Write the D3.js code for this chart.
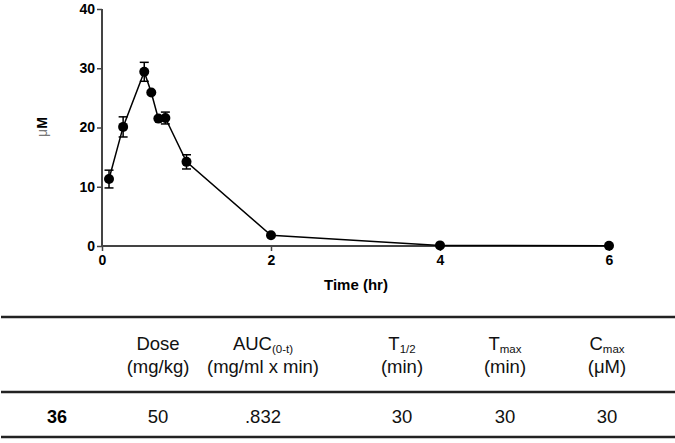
<!DOCTYPE html>
<html><head><meta charset="utf-8">
<script src="https://cdn.jsdelivr.net/npm/d3@7/dist/d3.min.js"></script>
<style>body{margin:0;background:#fff}svg{display:block}text{font-family:Arial,"Liberation Sans",sans-serif}</style>
</head><body><svg id="c" width="675" height="443"></svg>
<script>
const times = [0.083, 0.25, 0.5, 0.583, 0.667, 0.75, 1, 2, 4, 6];
const means = [11.3, 20.1, 29.4, 25.9, 21.5, 21.6, 14.2, 1.8, 0.1, 0.05];
const sems  = [1.5, 1.7, 1.6, 0, 0, 1.0, 1.2, 0, 0, 0];
const xTicks = [0, 2, 4, 6];
const yTicks = [0, 10, 20, 30, 40];
const headers = [["Dose", "", "(mg/kg)"], ["AUC", "(0-t)", "(mg/ml x min)"], ["T", "1/2", "(min)"], ["T", "max", "(min)"], ["C", "max", "(μM)"]];
const rowLabel = "36";
const rowValues = ["50", ".832", "30", "30", "30"];

const svg = d3.select("#c");
const x = d3.scaleLinear().domain([0, 6]).range([102, 609]);
const y = d3.scaleLinear().domain([0, 40]).range([246, 9]);

const axisColor = "#444";
const gx = svg.append("g").attr("transform", "translate(0,246)")
  .call(d3.axisBottom(x).tickValues(xTicks).tickFormat(d3.format("d")).tickSize(5).tickPadding(4));
const gy = svg.append("g").attr("transform", "translate(102,0)")
  .call(d3.axisLeft(y).tickValues(yTicks).tickFormat(d3.format("d")).tickSize(5).tickPadding(2));
[gx, gy].forEach(g => {
  g.select(".domain").attr("stroke", axisColor).attr("stroke-width", 2);
  g.selectAll(".tick line").attr("stroke", axisColor).attr("stroke-width", 1.5);
  g.selectAll(".tick text").attr("font-size", 14).attr("font-weight", "bold").attr("fill", "#000")
    .attr("font-family", "Arial, 'Liberation Sans', sans-serif");
});
gx.select(".domain").attr("d", "M102,0H609");
gy.select(".domain").attr("d", "M0,246V9");

svg.append("text").attr("x", 356).attr("y", 290).attr("text-anchor", "middle")
  .attr("font-size", 15).attr("font-weight", "bold").text("Time (hr)");
const yl = svg.append("text").attr("transform", "translate(47,127) rotate(-90)")
  .attr("text-anchor", "middle").attr("font-size", 14).attr("font-weight", "bold");
yl.append("tspan").attr("font-weight", "normal").attr("fill", "#777").text("μ");
yl.append("tspan").text("M");

const pts = times.map((t, i) => ({t, m: means[i], s: sems[i]}));
svg.append("path").datum(pts)
  .attr("d", d3.line().x(d => x(d.t)).y(d => y(d.m)))
  .attr("fill", "none").attr("stroke", "#000").attr("stroke-width", 1.5);
const eb = svg.append("g").attr("stroke", "#000").attr("stroke-width", 1.5);
pts.filter(d => d.s > 0).forEach(d => {
  const cx = x(d.t), y1 = y(d.m + d.s), y0 = y(d.m - d.s);
  eb.append("line").attr("x1", cx).attr("x2", cx).attr("y1", y1).attr("y2", y0);
  eb.append("line").attr("x1", cx - 4.5).attr("x2", cx + 4.5).attr("y1", y1).attr("y2", y1);
  eb.append("line").attr("x1", cx - 4.5).attr("x2", cx + 4.5).attr("y1", y0).attr("y2", y0);
});
svg.append("g").selectAll("circle").data(pts).join("circle")
  .attr("cx", d => x(d.t)).attr("cy", d => y(d.m)).attr("r", 5).attr("fill", "#000");

// table
const colX = [158, 263, 402, 505, 607];
[317, 392, 437].forEach(yy => svg.append("line").attr("x1", 1).attr("x2", 675)
  .attr("y1", yy).attr("y2", yy).attr("stroke", "#222").attr("stroke-width", 2.5));
headers.forEach((h, i) => {
  const t1 = svg.append("text").attr("x", colX[i]).attr("y", 350).attr("text-anchor", "middle")
    .attr("font-size", 18.5).attr("fill", "#111");
  t1.append("tspan").text(h[0]);
  if (h[1]) t1.append("tspan").attr("font-size", 11.5).attr("dy", 3).text(h[1]);
  svg.append("text").attr("x", colX[i]).attr("y", 373).attr("text-anchor", "middle")
    .attr("font-size", 18.5).attr("fill", "#111").text(h[2]);
});
svg.append("text").attr("x", 57).attr("y", 423).attr("text-anchor", "middle")
  .attr("font-size", 18).attr("font-weight", "bold").text(rowLabel);
rowValues.forEach((v, i) => svg.append("text").attr("x", colX[i]).attr("y", 423)
  .attr("text-anchor", "middle").attr("font-size", 18.5).attr("fill", "#111").text(v));
</script></body></html>
